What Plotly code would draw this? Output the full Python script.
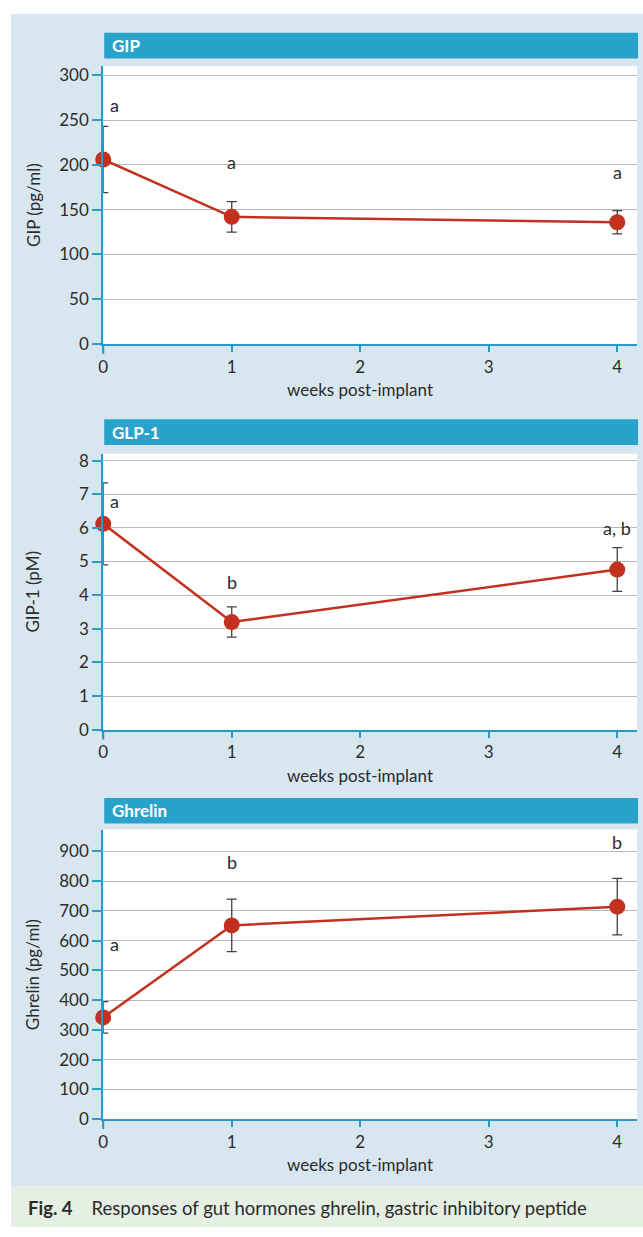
import plotly.graph_objects as go

W, H = 643, 1237

weeks = [0, 1, 4]

gip_mean = [206, 142, 136]
gip_err = [37, 17, 13]
gip_letters = ["a", "a", "a"]
gip_letter_y = [267, 203, 192]

glp_mean = [6.12, 3.2, 4.76]
glp_err = [1.22, 0.45, 0.65]
glp_letters = ["a", "b", "a, b"]
glp_letter_y = [6.8, 4.4, 6.0]

ghr_mean = [342, 651, 714]
ghr_err = [53, 88, 95]
ghr_letters = ["a", "b", "b"]
ghr_letter_y = [590, 865, 930]

x_ticks = [0, 1, 2, 3, 4]

panels = [
    dict(name="GIP", ytitle="GIP (pg/ml)", mean=gip_mean, err=gip_err,
         letters=gip_letters, ly=gip_letter_y, yticks=[0, 50, 100, 150, 200, 250, 300],
         yrange=[0, 310], top=63, bottom=344, bar=(29, 55)),
    dict(name="GLP-1", ytitle="GIP-1 (pM)", mean=glp_mean, err=glp_err,
         letters=glp_letters, ly=glp_letter_y, yticks=list(range(0, 9)),
         yrange=[0, 8.2], top=455, bottom=734, bar=(420, 446)),
    dict(name="Ghrelin", ytitle="Ghrelin (pg/ml)", mean=ghr_mean, err=ghr_err,
         letters=ghr_letters, ly=ghr_letter_y, yticks=list(range(0, 1000, 100)),
         yrange=[0, 973], top=835, bottom=1128, bar=(803, 829)),
]

FONT = "Lato, Open Sans, sans-serif"
BLUE = "#2aa3cc"
AXIS_BLUE = "#2a9ac8"
PANEL_BG = "#d8e7ef"
RED = "#c3301e"
TXT = "#2b2b2b"

PX0, PX1 = 99, 637


def px(x):
    return x / W


def py(y):
    return 1 - y / H


fig = go.Figure()
shapes = []
annotations = []

# page backgrounds
shapes.append(dict(type="rect", xref="paper", yref="paper", x0=px(6), x1=1,
                   y0=py(1196), y1=py(10), fillcolor=PANEL_BG, line_width=0, layer="below"))
shapes.append(dict(type="rect", xref="paper", yref="paper", x0=px(6), x1=1,
                   y0=0, y1=py(1196), fillcolor="#e5efe4", line_width=0, layer="below"))

for i, p in enumerate(panels, start=1):
    xa = "x" if i == 1 else f"x{i}"
    ya = "y" if i == 1 else f"y{i}"
    xkey = "xaxis" if i == 1 else f"xaxis{i}"
    ykey = "yaxis" if i == 1 else f"yaxis{i}"

    fig.add_trace(go.Scatter(
        x=weeks, y=p["mean"], xaxis=xa, yaxis=ya, mode="lines+markers",
        line=dict(color=RED, width=2.5),
        marker=dict(color=RED, size=16),
        error_y=dict(type="data", array=p["err"], visible=True,
                     color="#404040", thickness=1.3, width=5),
        cliponaxis=False, showlegend=False, hoverinfo="skip",
    ))

    fig.update_layout(**{
        xkey: dict(domain=[px(PX0), px(PX1)], range=[0, 4.154], anchor=ya,
                   tickvals=x_ticks, ticks="outside", ticklen=6, tickcolor=AXIS_BLUE,
                   tickwidth=1.5, showgrid=False, zeroline=False,
                   showline=True, linecolor=AXIS_BLUE, linewidth=2,
                   tickfont=dict(family=FONT, size=17, color=TXT)),
        ykey: dict(domain=[py(p["bottom"]), py(p["top"])], range=p["yrange"], anchor=xa,
                   tickvals=p["yticks"], ticks="outside", ticklen=9, tickcolor=AXIS_BLUE,
                   tickwidth=1.5, showgrid=True, gridcolor="#b8b8b8", gridwidth=1,
                   zeroline=False, showline=True, linecolor=AXIS_BLUE, linewidth=2,
                   tickfont=dict(family=FONT, size=17, color=TXT)),
    })

    # white plotting area
    shapes.append(dict(type="rect", xref="paper", yref="paper", x0=px(PX0), x1=px(PX1),
                       y0=py(p["bottom"]), y1=py(p["top"]), fillcolor="white",
                       line_width=0, layer="below"))
    # y axis line continues just past the x axis
    shapes.append(dict(type="line", xref="paper", yref="paper", x0=px(PX0), x1=px(PX0),
                       y0=py(p["bottom"] + 10), y1=py(p["bottom"]),
                       line=dict(color=AXIS_BLUE, width=2)))
    # title bar
    b0, b1 = p["bar"]
    shapes.append(dict(type="rect", xref="paper", yref="paper", x0=px(100), x1=px(638),
                       y0=py(b1), y1=py(b0), fillcolor=BLUE, line_width=0, layer="below"))
    annotations.append(dict(xref="paper", yref="paper", x=px(106), y=py((b0 + b1) / 2),
                            text=f"<b>{p['name']}</b>", showarrow=False, xanchor="left",
                            yanchor="middle", font=dict(family=FONT, size=17, color="white")))
    # axis titles
    annotations.append(dict(xref="paper", yref="paper", x=px(358), y=py(p["bottom"] + 46),
                            text="weeks post-implant", showarrow=False, xanchor="center",
                            yanchor="middle", font=dict(family=FONT, size=17, color=TXT)))
    annotations.append(dict(xref="paper", yref="paper", x=px(28),
                            y=py((p["top"] + p["bottom"]) / 2), text=p["ytitle"],
                            textangle=-90, showarrow=False, xanchor="center",
                            yanchor="middle", font=dict(family=FONT, size=17, color=TXT)))
    # significance letters
    for wk, lt, ly in zip(weeks, p["letters"], p["ly"]):
        annotations.append(dict(xref=xa, yref=ya, x=wk, y=ly, text=lt, showarrow=False,
                                xanchor="center", yanchor="middle",
                                xshift=11 if wk == 0 else 0,
                                font=dict(family=FONT, size=18, color=TXT)))

annotations.append(dict(xref="paper", yref="paper", x=px(21), y=py(1218),
                        text="<b>Fig. 4</b>    Responses of gut hormones ghrelin, gastric inhibitory peptide",
                        showarrow=False, xanchor="left", yanchor="middle",
                        font=dict(family=FONT, size=18.5, color=TXT)))

fig.update_layout(
    width=W, height=H, margin=dict(l=0, r=0, t=0, b=0),
    paper_bgcolor="white", plot_bgcolor="rgba(0,0,0,0)",
    shapes=shapes, annotations=annotations, showlegend=False,
    font=dict(family=FONT),
)

fig.write_html("out.html")
